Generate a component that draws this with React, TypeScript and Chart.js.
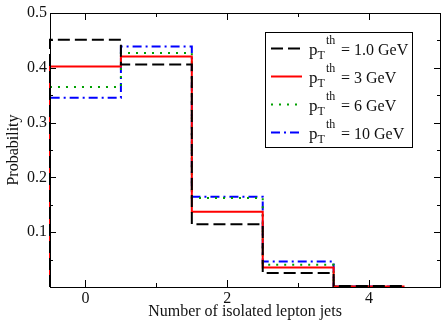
import React, { useEffect, useRef } from "react";
import { Chart, registerables } from "chart.js";

Chart.register(...registerables);

const bins = [0, 1, 2, 3, 4];
const xTickValues = [0, 2, 4];
const xMinorValues = [1, 3];
const yTickValues = [0.1, 0.2, 0.3, 0.4, 0.5];
const yMinorValues = [0.05, 0.15, 0.25, 0.35, 0.45];

const seriesNames = ["1.0 GeV", "3 GeV", "6 GeV", "10 GeV"];
const pt1 = [0.451, 0.406, 0.1145, 0.0255, 0.002];
const pt3 = [0.4025, 0.4205, 0.1375, 0.0357, 0.001];
const pt6 = [0.365, 0.427, 0.1624, 0.0405, 0.001];
const pt10 = [0.3455, 0.4387, 0.1647, 0.0466, 0.001];

const colors = ["#000000", "#ff0000", "#00a000", "#0000ff"];
const dashes: number[][] = [[12, 5], [], [2, 6], [9, 4, 2, 4]];

const SERIF = '"Liberation Serif", "DejaVu Serif", serif';

function stepPoints(vals: number[]) {
  const pts = [{ x: bins[0] - 0.5, y: 0 }];
  bins.forEach((b, i) => pts.push({ x: b - 0.5, y: vals[i] }));
  pts.push({ x: bins[bins.length - 1] + 0.5, y: vals[vals.length - 1] });
  return pts;
}

const framePlugin = {
  id: "frameTicks",
  afterDatasetsDraw(chart: any) {
    const { ctx, chartArea, scales } = chart;
    const { left, right, top, bottom } = chartArea;
    const xs = scales.x;
    const ys = scales.y;
    ctx.save();
    ctx.strokeStyle = "#000";
    ctx.lineWidth = 1;
    ctx.setLineDash([]);
    ctx.strokeRect(left + 0.5, top + 0.5, right - left, bottom - top);
    ctx.beginPath();
    const xt = (v: number, len: number) => {
      const px = Math.round(xs.getPixelForValue(v)) + 0.5;
      ctx.moveTo(px, bottom);
      ctx.lineTo(px, bottom - len);
      ctx.moveTo(px, top);
      ctx.lineTo(px, top + len);
    };
    const yt = (v: number, len: number) => {
      const py = Math.round(ys.getPixelForValue(v)) + 0.5;
      ctx.moveTo(left, py);
      ctx.lineTo(left + len, py);
      ctx.moveTo(right, py);
      ctx.lineTo(right - len, py);
    };
    xTickValues.forEach((v) => xt(v, 7));
    xMinorValues.forEach((v) => xt(v, 4));
    yTickValues.forEach((v) => yt(v, 6));
    yMinorValues.forEach((v) => yt(v, 3));
    ctx.stroke();
    ctx.restore();
  },
  afterDraw(chart: any) {
    const ctx = chart.ctx;
    ctx.save();
    ctx.fillStyle = "#fff";
    ctx.fillRect(266, 32, 147, 116);
    ctx.strokeStyle = "#000";
    ctx.lineWidth = 1;
    ctx.setLineDash([]);
    ctx.strokeRect(265.5, 32.5, 147, 115);
    seriesNames.forEach((name, i) => {
      const ly = 48.5 + i * 28;
      ctx.beginPath();
      ctx.strokeStyle = colors[i];
      ctx.lineWidth = 2;
      ctx.setLineDash(dashes[i]);
      ctx.moveTo(271, ly);
      ctx.lineTo(302, ly);
      ctx.stroke();
      ctx.setLineDash([]);
      ctx.fillStyle = "#111";
      ctx.textBaseline = "alphabetic";
      ctx.textAlign = "left";
      const base = ly + 6;
      ctx.font = "17px " + SERIF;
      ctx.fillText("p", 309, base);
      const pw = ctx.measureText("p").width;
      ctx.font = "12px " + SERIF;
      ctx.fillText("T", 309 + pw, base + 4);
      ctx.fillText("th", 326, ly - 5);
      ctx.font = "16px " + SERIF;
      ctx.fillText("= " + name, 341, base);
    });
    ctx.restore();
  },
};

export default function App() {
  const ref = useRef<HTMLCanvasElement>(null);
  useEffect(() => {
    const all = [pt1, pt3, pt6, pt10];
    const chart = new Chart(ref.current as HTMLCanvasElement, {
      type: "line",
      data: {
        datasets: all.map((vals, i) => ({
          label: "pT th = " + seriesNames[i],
          data: stepPoints(vals),
          borderColor: colors[i],
          borderWidth: 2,
          borderDash: dashes[i],
          pointRadius: 0,
          fill: false,
          stepped: true,
          clip: false,
          tension: 0,
        })),
      },
      options: {
        animation: false,
        responsive: false,
        devicePixelRatio: 1,
        layout: { padding: { top: 13, right: 1, left: 0, bottom: 0 } },
        plugins: { legend: { display: false }, tooltip: { enabled: false } },
        scales: {
          x: {
            type: "linear",
            min: -0.5,
            max: 5,
            grid: { display: false, drawTicks: false },
            border: { display: false },
            afterBuildTicks: (s: any) => {
              s.ticks = xTickValues.map((v) => ({ value: v }));
            },
            afterFit: (s: any) => {
              s.height = 33;
            },
            ticks: {
              padding: 2,
              color: "#111",
              font: { family: SERIF, size: 16 },
              callback: (v: any) => String(v),
              maxRotation: 0,
            },
            title: {
              display: true,
              text: "Number of isolated lepton jets",
              color: "#111",
              font: { family: SERIF, size: 16, lineHeight: 1.0 },
              padding: { top: 0, bottom: 0 },
            },
          },
          y: {
            type: "linear",
            min: 0,
            max: 0.5,
            grid: { display: false, drawTicks: false },
            border: { display: false },
            afterBuildTicks: (s: any) => {
              s.ticks = yTickValues.map((v) => ({ value: v }));
            },
            afterFit: (s: any) => {
              s.width = 50;
            },
            ticks: {
              padding: 3,
              color: "#111",
              font: { family: SERIF, size: 16 },
              callback: (v: any) => Number(v).toFixed(1),
            },
            title: {
              display: true,
              text: "Probability",
              color: "#111",
              font: { family: SERIF, size: 16, lineHeight: 1.0 },
              padding: { top: 6, bottom: 0 },
            },
          },
        },
      },
      plugins: [framePlugin],
    });
    return () => chart.destroy();
  }, []);
  return (
    <div style={{ position: "fixed", left: 0, top: 0, width: 441, height: 320, background: "#fff" }}>
      <canvas ref={ref} width={441} height={320} style={{ width: 441, height: 320, display: "block" }} />
    </div>
  );
}
